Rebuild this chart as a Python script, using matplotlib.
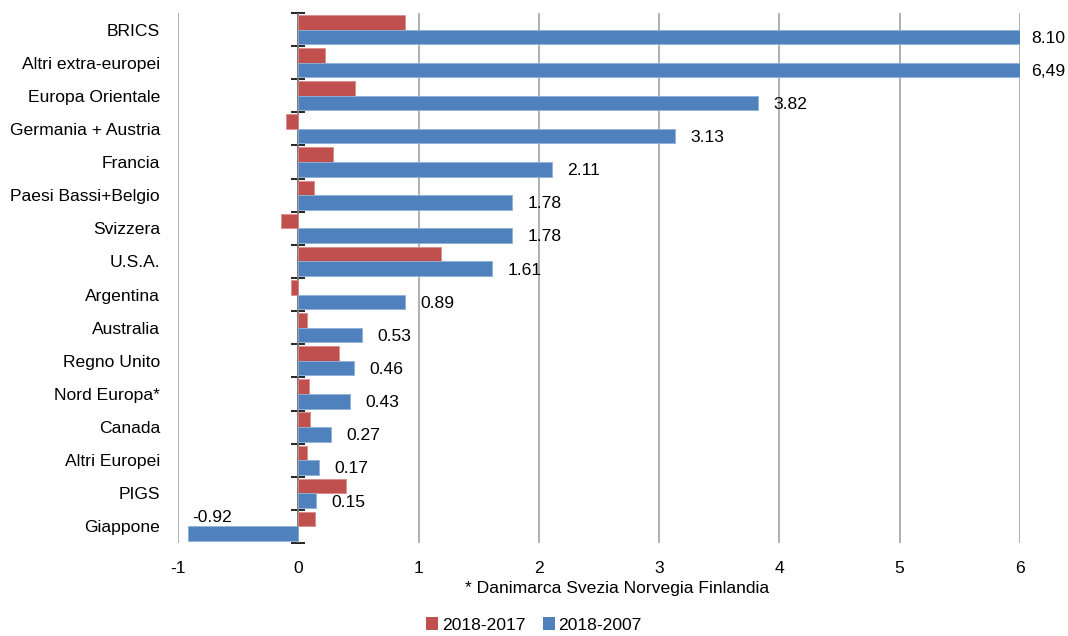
import numpy as np
import matplotlib
matplotlib.use("Agg")
import matplotlib.pyplot as plt
from matplotlib.patches import Patch

plt.rcParams['font.family'] = ['Liberation Sans', 'DejaVu Sans']

categories = ['BRICS', 'Altri extra-europei', 'Europa Orientale', 'Germania + Austria',
              'Francia', 'Paesi Bassi+Belgio', 'Svizzera', 'U.S.A.', 'Argentina',
              'Australia', 'Regno Unito', 'Nord Europa*', 'Canada', 'Altri Europei',
              'PIGS', 'Giappone']
var_2018_2017 = [0.89, 0.22, 0.47, -0.10, 0.29, 0.13, -0.14, 1.19, -0.06,
                 0.07, 0.34, 0.09, 0.10, 0.07, 0.40, 0.14]
var_2018_2007 = [8.10, 6.49, 3.82, 3.13, 2.11, 1.78, 1.78, 1.61, 0.89,
                 0.53, 0.46, 0.43, 0.27, 0.17, 0.15, -0.92]
value_labels = ['8.10', '6,49', '3.82', '3.13', '2.11', '1.78', '1.78', '1.61', '0.89',
                '0.53', '0.46', '0.43', '0.27', '0.17', '0.15', '-0.92']
series_names = ['2018-2017', '2018-2007']

RED = '#C0504D'
BLUE = '#4F81BD'
GRID = '#9A9A9A'
XMIN, XMAX = -1, 6
FS = 12.6

fig = plt.figure(figsize=(10.68, 6.36), dpi=100)
ax = fig.add_axes([0.1667, 0.1462, 0.7883, 0.8334])

y = np.arange(len(categories))
h = 0.44
ax.barh(y - h / 2, var_2018_2017, height=h, color=RED, edgecolor='#D98C8A', linewidth=0.6, zorder=3)
ax.barh(y + h / 2, var_2018_2007, height=h, color=BLUE, edgecolor='#8FB0D8', linewidth=0.6, zorder=3)

ax.set_xlim(XMIN, XMAX)
ax.set_ylim(len(categories) - 0.5, -0.5)
ax.set_xticks(np.arange(XMIN, XMAX + 1))
ax.set_xticklabels([str(v) for v in range(XMIN, XMAX + 1)])
ax.set_yticks(y)
ax.set_yticklabels(categories)
ax.tick_params(axis='y', length=0, pad=13, labelsize=FS)
ax.tick_params(axis='x', length=0, pad=13, labelsize=FS)
ax.grid(axis='x', color=GRID, linewidth=1.1, zorder=0)
for s in ax.spines.values():
    s.set_visible(False)

# category axis crossing at x = 0 with cross tick marks between groups
sec = ax.secondary_yaxis((0 - XMIN) / (XMAX - XMIN))
sec.set_yticks(np.arange(len(categories) + 1) - 0.5)
sec.set_yticklabels([])
sec.tick_params(direction='inout', length=10, width=1.2, color='black')
sec.spines['left'].set_color('black')
sec.spines['left'].set_linewidth(1.3)
sec.spines['left'].set_zorder(5)

# value labels for the 2018-2007 series
for yi, v, lab in zip(y, var_2018_2007, value_labels):
    if v < 0:
        ax.annotate(lab, (v, yi + h / 2), xytext=(3, 12), textcoords='offset points',
                    ha='left', va='center', fontsize=FS)
    else:
        ax.annotate(lab, (min(v, XMAX), yi + h / 2), xytext=(11 if v <= XMAX else 8, -1),
                    textcoords='offset points', ha='left', va='center', fontsize=FS,
                    annotation_clip=False)

fig.text(0.578, 1 - 588 / 636, '* Danimarca Svezia Norvegia Finlandia',
         ha='center', va='center', fontsize=FS)

handles = [Patch(facecolor=RED), Patch(facecolor=BLUE)]
fig.legend(handles, series_names, loc='center', bbox_to_anchor=(0.5, 1 - 625 / 636),
           ncol=2, frameon=False, fontsize=FS, handlelength=0.7, handleheight=0.7,
           handletextpad=0.2, columnspacing=1.0)

fig.savefig('out.png', dpi=100)
